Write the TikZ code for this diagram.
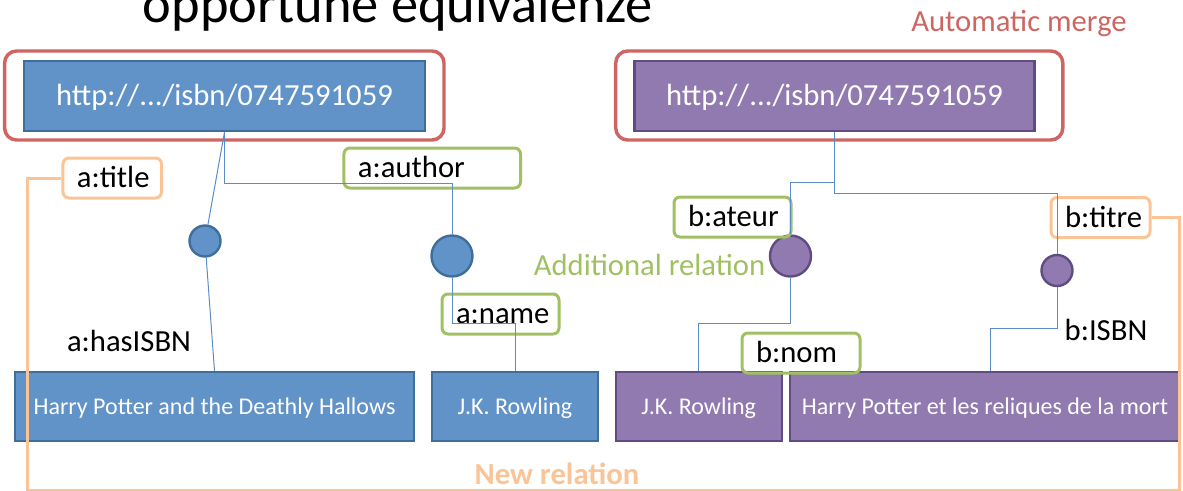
\documentclass[tikz,border=0pt]{standalone}
\usepackage{fontspec}
\setmainfont{Carlito}
\usetikzlibrary{calc}
\definecolor{blueFill}{RGB}{97,147,200}
\definecolor{blueDraw}{RGB}{64,110,155}
\definecolor{purpleFill}{RGB}{145,122,175}
\definecolor{purpleDraw}{RGB}{96,76,132}
\definecolor{redC}{RGB}{205,102,98}
\definecolor{greenC}{RGB}{160,192,98}
\definecolor{orangeC}{RGB}{250,196,150}
\definecolor{connC}{RGB}{90,140,200}
\begin{document}
\begin{tikzpicture}[x=0.75pt,y=-0.75pt,
  mergebox/.style={draw=redC, line width=2.6pt, rounded corners=9pt, inner sep=0pt},
  bigfont/.style={font=\fontsize{23}{28}\selectfont},
  leaffont/.style={font=\fontsize{18}{22}\selectfont},
  bluebox/.style={draw=blueDraw, fill=blueFill, line width=1.8pt, text=white, inner sep=0pt},
  purplebox/.style={draw=purpleDraw, fill=purpleFill, line width=1.8pt, text=white, inner sep=0pt},
  urltext/.style={bigfont, text height=14.8pt, text depth=0pt, minimum height=52.5pt},
  leaftext/.style={leaffont, text height=11.6pt, text depth=0pt, minimum height=51.75pt},
  bnode/.style={circle, draw=blueDraw, fill=blueFill, line width=1.8pt, inner sep=0pt},
  pnode/.style={circle, draw=purpleDraw, fill=purpleFill, line width=1.8pt, inner sep=0pt},
  lab/.style={line width=2.25pt, rounded corners=4.5pt, minimum height=30pt, inner xsep=10.5pt, inner ysep=0pt, align=left, bigfont, text height=14.8pt, text depth=0pt},
  greenlab/.style={lab, draw=greenC},
  orangelab/.style={lab, draw=orangeC},
  conn/.style={draw=connC, line width=0.75pt},
  newrel/.style={draw=orangeC, line width=2.25pt},
  freetext/.style={bigfont, inner sep=0pt, anchor=base}
]
\useasboundingbox (0,0) rectangle (1183,490);

% title and captions
\node[inner sep=0pt, anchor=base, font=\fontsize{40.8}{48}\selectfont] (title) at (398,22) {opportune equivalenze};
\node[freetext, text=redC] (automerge) at (1019,31.5) {Automatic merge};

% merge frames
\node[mergebox, minimum width=329.55pt, minimum height=66.75pt] (mergeA) at (224.3,95.5) {};
\node[mergebox, minimum width=335.3pt, minimum height=66.75pt] (mergeB) at (839.25,95.5) {};

% resources
\node[bluebox, urltext, minimum width=300.75pt] (urlA) at (224.5,96) {http://.../isbn/0747591059};
\node[purplebox, urltext, minimum width=300pt] (urlB) at (834.5,96) {http://.../isbn/0747591059};

% blank nodes
\node[bnode, minimum size=23.25pt] (cA1) at (205,241) {};
\node[bnode, minimum size=30.75pt] (cA2) at (452,256) {};
\node[pnode, minimum size=30.75pt] (cB1) at (790.5,256) {};
\node[pnode, minimum size=23.25pt] (cB2) at (1057,270.5) {};

% literals
\node[bluebox, leaftext, minimum width=299.25pt] (hpA) at (214.5,406.5) {Harry Potter and the Deathly Hallows};
\node[bluebox, leaftext, minimum width=124.5pt] (jkA) at (515,406.5) {J.K. Rowling};
\node[purplebox, leaftext, minimum width=124.5pt] (jkB) at (698.7,406.5) {J.K. Rowling};
\node[purplebox, leaftext, minimum width=292.5pt] (hpB) at (985,406.5) {Harry Potter et les reliques de la mort};

% property labels
\node[orangelab, text width=52.9pt] (atitle) at (112.25,178) {a:title};
\node[greenlab, text width=111.4pt] (aauthor) at (432.25,168) {a:author};
\node[greenlab, text width=66.75pt] (aname) at (500.5,314) {a:name};
\node[greenlab, text width=66.75pt] (bateur) at (732.5,217) {b:ateur};
\node[greenlab, text width=67.5pt] (bnom) at (801,353) {b:nom};
\node[orangelab, text width=53.25pt] (btitre) at (1100.5,217.5) {b:titre};

\node[freetext] (hasisbn) at (129,351.7) {a:hasISBN};
\node[freetext] (bisbn) at (1106,340) {b:ISBN};
\node[freetext, text=greenC] (addrel) at (649.5,275) {Additional relation};
\node[freetext, text=orangeC, font=\fontsize{23}{28}\selectfont\bfseries] (newrelt) at (557,484) {New relation};

% connector junctions
\coordinate (jA) at (224.5,183);
\coordinate (kA) at (515,323);
\coordinate (jB1) at (834.5,182);
\coordinate (jB2) at (834.5,193);
\coordinate (kB) at (698.7,323);
\coordinate (kB2) at (990,328);
\coordinate (oBL) at (27.5,490.5);
\coordinate (oBR) at (1179,490.5);

% left graph connectors
\draw[conn] (urlA.south) -- (cA1);
\draw[conn] (cA1) -- (hpA.north);
\draw[conn] (urlA.south) -- (jA) -| (cA2.north);
\draw[conn] (cA2.south) |- (kA) -- (jkA.north);

% right graph connectors
\draw[conn] (urlB.south) -- (jB1) -| (cB1.north);
\draw[conn] (jB1) -- (jB2) -| (cB2.north);
\draw[conn] (cB1.south) |- (kB) -- (jkB.north);
\draw[conn] (cB2.south) |- (kB2) -- (kB2 |- hpB.north);

% new relation
\draw[newrel] (atitle.west) -| (oBL) -- (oBR) |- (btitre.east);
\end{tikzpicture}
\end{document}
